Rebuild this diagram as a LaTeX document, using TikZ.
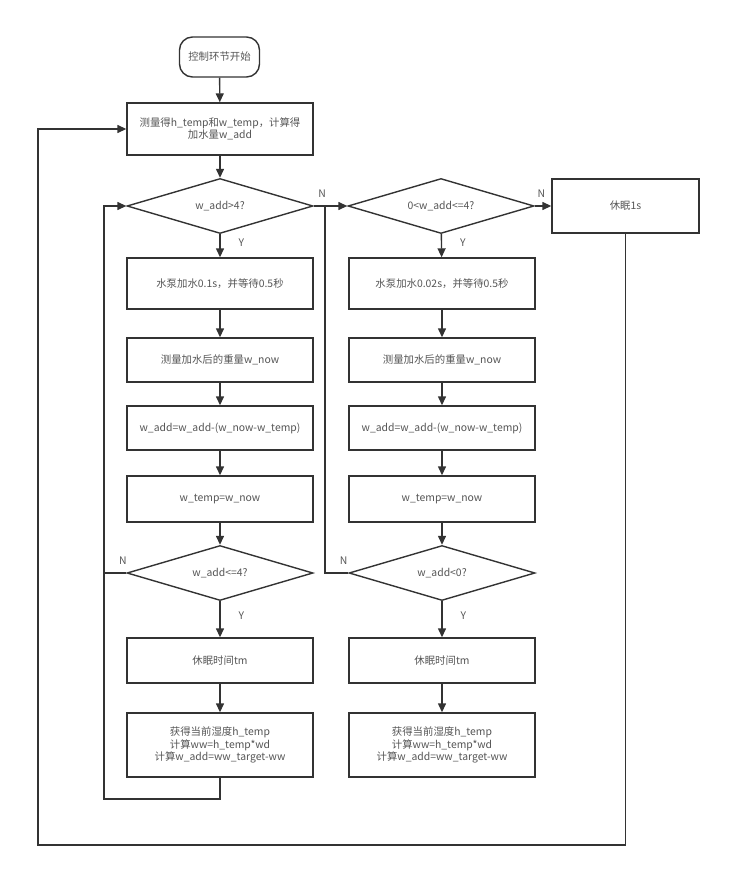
\documentclass[tikz,border=0pt]{standalone}
\usepackage{fontspec}
\setmainfont{Noto Sans CJK SC}
\usetikzlibrary{shapes.geometric,arrows.meta}
\definecolor{linegray}{HTML}{333333}
\definecolor{textgray}{HTML}{555555}
\tikzset{
  proc/.style={draw=linegray, line width=1.4pt, minimum width=186pt, minimum height=46pt,
    inner sep=2pt, align=center, text=textgray, font=\fontsize{10.4}{12.5}\selectfont},
  decide/.style={diamond, draw=linegray, line width=1.4pt, minimum width=186pt,
    minimum height=55pt, aspect=3.4, inner sep=0pt, text=textgray, font=\fontsize{10.4}{12}\selectfont},
  lbl/.style={text=textgray, font=\fontsize{10.4}{12}\selectfont, inner sep=0pt},
  line/.style={draw=linegray, line width=1.4pt},
  arrow/.style={line, -{Triangle[length=9pt,width=8pt]}}
}
\begin{document}
\begin{tikzpicture}[x=1pt,y=-1pt]
    \useasboundingbox (0,0) rectangle (750,893);
    % Start and measurement
    \node[proc, rounded corners=13pt, minimum width=80pt, minimum height=40pt] (start) at (219.5,57) {控制环节开始};
    \node[proc, minimum height=52pt] (measure) at (220,129) {测量得h\_temp和w\_temp，计算得\\加水量w\_add};
    % Left branch
    \node[decide] (big) at (220,206) {w\_add>4?};
    \node[proc, minimum height=51pt] (pumpA) at (220,283.5) {水泵加水0.1s，并等待0.5秒};
    \node[proc, minimum height=44pt] (weighA) at (220,360) {测量加水后的重量w\_now};
    \node[proc, minimum height=44pt] (subA) at (220,428) {w\_add=w\_add-(w\_now-w\_temp)};
    \node[proc, minimum height=46pt] (copyA) at (220,499) {w\_temp=w\_now};
    \node[decide] (checkA) at (220,573) {w\_add<=4?};
    \node[proc, minimum height=45pt] (sleepA) at (220,660.5) {休眠时间tm};
    \node[proc, minimum height=64pt] (updA) at (220,745) {获得当前湿度h\_temp\\计算ww=h\_temp*wd\\计算w\_add=ww\_target-ww};
    % Right branch
    \node[decide] (mid) at (441,206) {0<w\_add<=4?};
    \node[proc, minimum height=51pt] (pumpB) at (442,283.5) {水泵加水0.02s，并等待0.5秒};
    \node[proc, minimum height=44pt] (weighB) at (442,360) {测量加水后的重量w\_now};
    \node[proc, minimum height=44pt] (subB) at (442,428) {w\_add=w\_add-(w\_now-w\_temp)};
    \node[proc, minimum height=46pt] (copyB) at (442,499) {w\_temp=w\_now};
    \node[decide] (checkB) at (442,573) {w\_add<0?};
    \node[proc, minimum height=45pt] (sleepB) at (442,660.5) {休眠时间tm};
    \node[proc, minimum height=64pt] (updB) at (442,745) {获得当前湿度h\_temp\\计算ww=h\_temp*wd\\计算w\_add=ww\_target-ww};
    \node[proc, minimum width=147pt, minimum height=54pt] (sleep) at (625.5,206) {休眠1s};
    % Loop corners
    \coordinate (loopA) at (104,799);
    \coordinate (loopB) at (325,206);
    \coordinate (loopC) at (38,845);
    % Main column
    \draw[arrow] (start) -- (measure);
    \draw[arrow] (measure) -- (big);
    \draw[arrow] (big) -- node[lbl, pos=0.35, right=18pt] {Y} (pumpA);
    \draw[arrow] (big) -- node[lbl, pos=0.25, above=8pt] {N} (mid);
    \draw[arrow] (pumpA) -- (weighA);
    \draw[arrow] (weighA) -- (subA);
    \draw[arrow] (subA) -- (copyA);
    \draw[arrow] (copyA) -- (checkA);
    \draw[arrow] (checkA) -- node[lbl, pos=0.4, right=18pt] {Y} (sleepA);
    \draw[arrow] (sleepA) -- (updA);
    \draw[arrow] (mid) -- node[lbl, pos=0.35, right=18pt] {Y} (pumpB);
    \draw[arrow] (mid) -- node[lbl, pos=0.4, above=8pt] {N} (sleep);
    \draw[arrow] (pumpB) -- (weighB);
    \draw[arrow] (weighB) -- (subB);
    \draw[arrow] (subB) -- (copyB);
    \draw[arrow] (copyB) -- (checkB);
    \draw[arrow] (checkB) -- node[lbl, pos=0.4, right=18pt] {Y} (sleepB);
    \draw[arrow] (sleepB) -- (updB);
    % Loops back
    \draw[arrow] (updA.south) |- (loopA) |- (big.west);
    \draw[line] (checkA.west) -- node[lbl, pos=0.15, above=8pt] {N} (loopA |- checkA.west);
    \draw[line] (checkB.west) -- node[lbl, pos=0.2, above=8pt] {N} (loopB |- checkB.west) -- (loopB);
    \draw[arrow] (sleep.south) |- (loopC) |- (measure.west);
\end{tikzpicture}
\end{document}
